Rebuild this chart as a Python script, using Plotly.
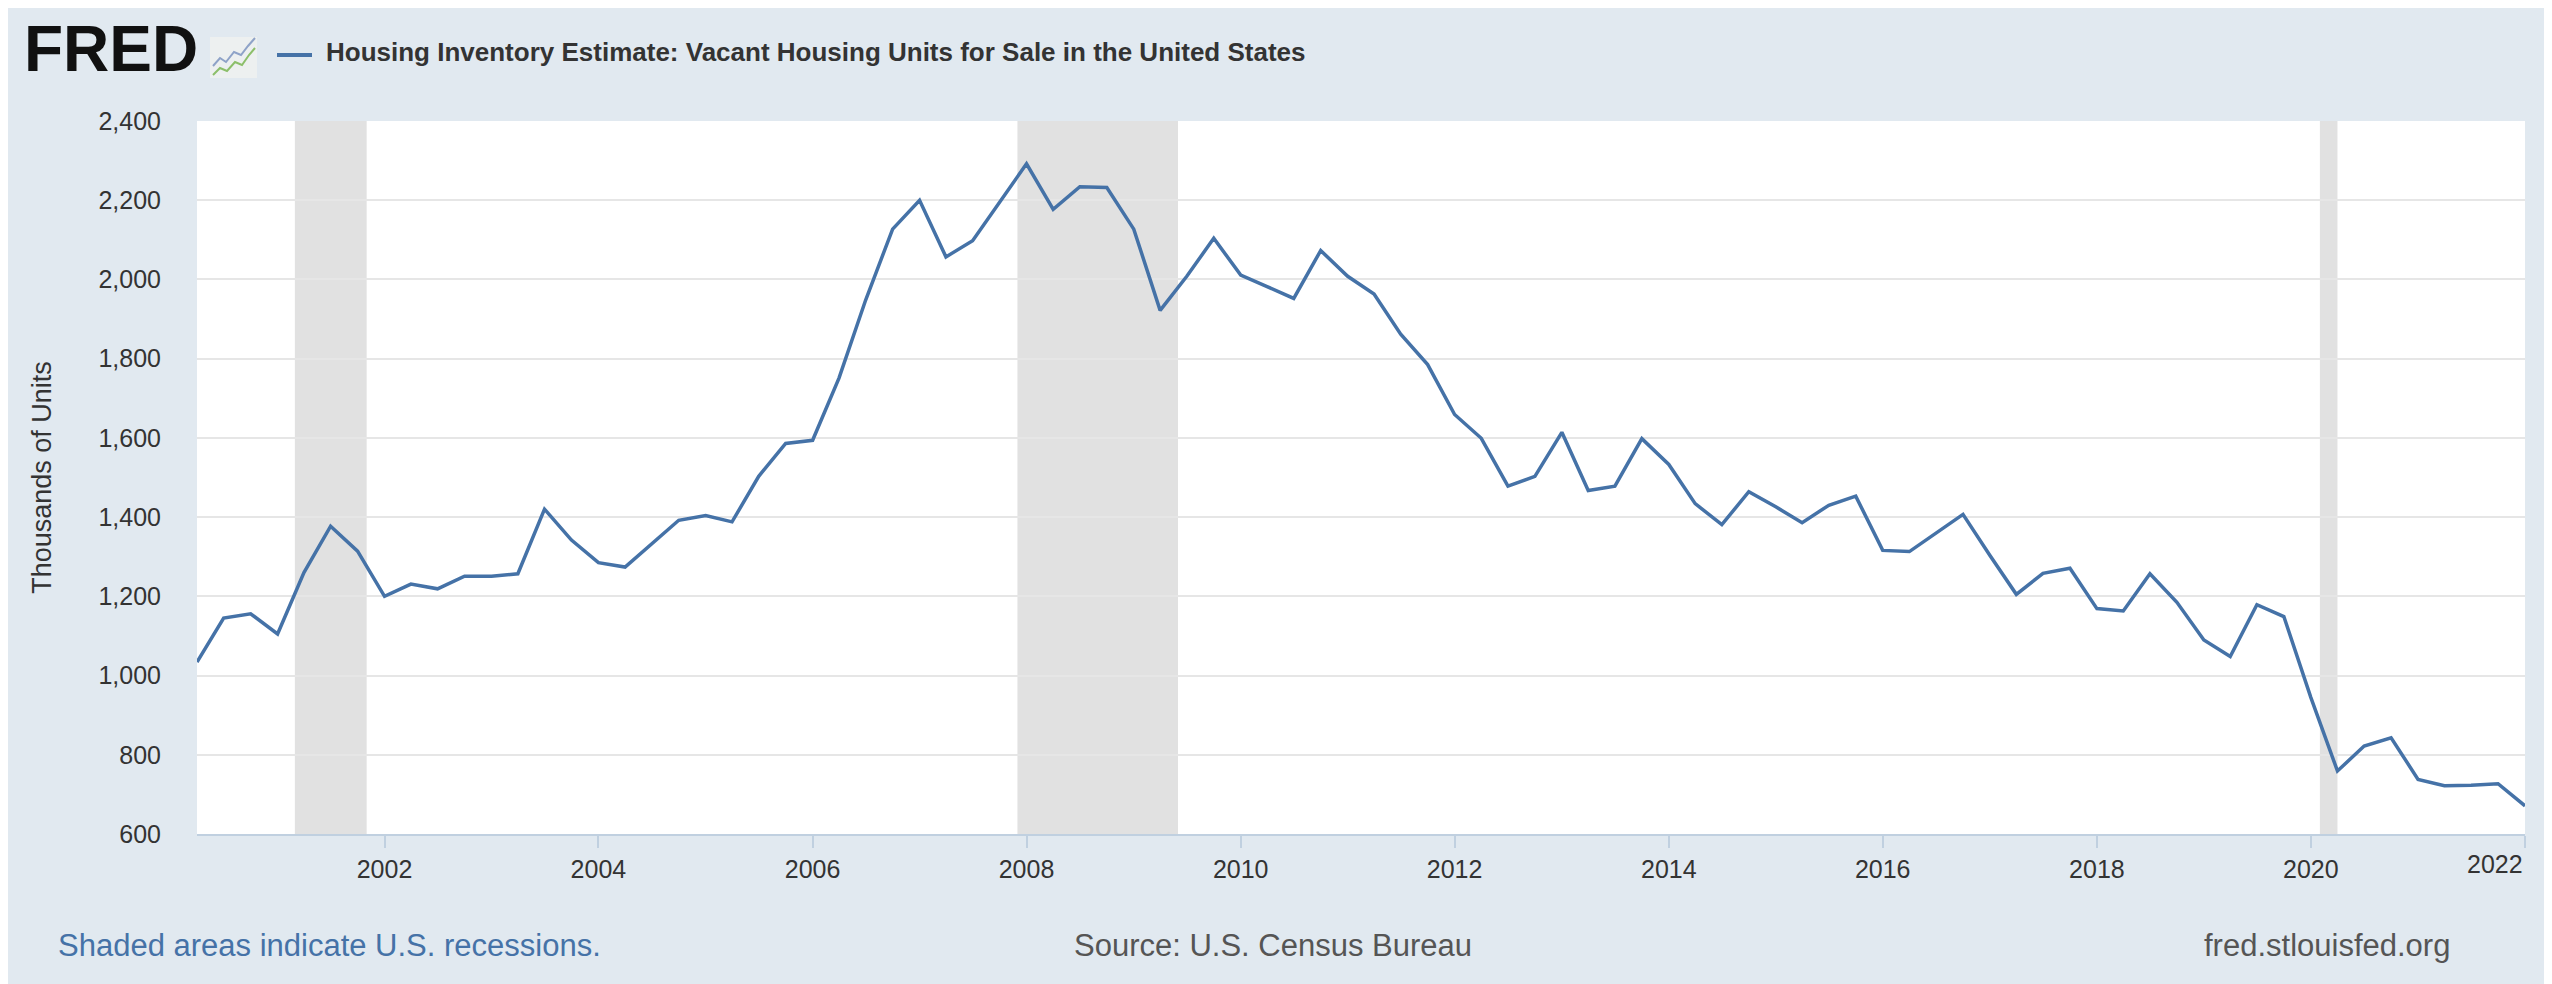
import pandas as pd
import plotly.graph_objects as go

# ---- data ----
start_quarter = "2000-04-01"
vacant_for_sale = [
    1034, 1145, 1156,
    1105, 1260, 1377, 1314,
    1200, 1231, 1219, 1251,
    1251, 1257, 1420, 1342,
    1285, 1274, 1333, 1392,
    1404, 1388, 1503, 1586,
    1594, 1751, 1948, 2127,
    2200, 2057, 2098, 2194,
    2292, 2177, 2234, 2232,
    2127, 1922, 2008, 2104,
    2011, 1982, 1952, 2073,
    2008, 1963, 1862, 1785,
    1659, 1599, 1478, 1503,
    1614, 1467, 1478, 1598,
    1533, 1434, 1381, 1464,
    1426, 1386, 1430, 1453,
    1316, 1313, 1360, 1407,
    1303, 1205, 1258, 1271,
    1169, 1163, 1257, 1185,
    1090, 1048, 1179, 1149,
    945, 759, 822, 843,
    738, 722, 723, 727,
    671,
]
dates = pd.date_range(start_quarter, periods=len(vacant_for_sale), freq="QS")

recession_starts = ["2001-03-01", "2007-12-01", "2020-02-01"]
recession_ends = ["2001-11-01", "2009-06-01", "2020-04-01"]

year_ticks = ["2002", "2004", "2006", "2008", "2010", "2012", "2014", "2016", "2018", "2020", "2022"]
y_ticks = [600, 800, 1000, 1200, 1400, 1600, 1800, 2000, 2200, 2400]

series_name = "Housing Inventory Estimate: Vacant Housing Units for Sale in the United States"
y_title = "Thousands of Units"
footer_left = "Shaded areas indicate U.S. recessions."
footer_mid = "Source: U.S. Census Bureau"
footer_right = "fred.stlouisfed.org"

# ---- layout geometry (pixels) ----
W, H = 2552, 984
L, R, T, B = 189, 2517, 113, 826
LINE = "#4572a7"
BG = "#e1e9f0"
FONT = "Liberation Sans, Arial, sans-serif"
TICK_FONT = dict(family=FONT, size=25, color="#333333")


def px(x):
    return (x - L) / (R - L)


def py(y):
    return (B - y) / (B - T)


fig = go.Figure()
fig.add_trace(go.Scatter(
    x=dates, y=vacant_for_sale, mode="lines", name=series_name,
    line=dict(color=LINE, width=3.5), showlegend=False,
))

shapes = []
for s, e in zip(recession_starts, recession_ends):
    shapes.append(dict(type="rect", xref="x", yref="paper", x0=s, x1=e, y0=0, y1=1,
                       fillcolor="#e1e1e1", line=dict(width=0), layer="below"))

# legend dash
shapes.append(dict(type="line", xref="paper", yref="paper", x0=px(269), x1=px(304),
                   y0=py(47), y1=py(47), line=dict(color=LINE, width=4)))

# small FRED chart icon
shapes.append(dict(type="rect", xref="paper", yref="paper", x0=px(202), x1=px(249),
                   y0=py(70), y1=py(29), fillcolor="#edf0f0", line=dict(width=0)))


def pathxy(pts):
    return "M " + " L ".join(f"{px(a)},{py(b)}" for a, b in pts)


shapes.append(dict(type="path", xref="paper", yref="paper",
                   path=pathxy([(205, 58), (212, 50), (218, 54), (226, 44), (233, 47), (240, 38), (247, 30)]),
                   line=dict(color="#8fa3c8", width=2)))
shapes.append(dict(type="path", xref="paper", yref="paper",
                   path=pathxy([(205, 67), (212, 60), (219, 63), (227, 54), (234, 57), (241, 47), (247, 40)]),
                   line=dict(color="#8cbf6a", width=2)))

# tick labels shown as text: last one kept inside the plot edge, as in the original
tick_text = year_ticks[:-1] + [""]

annotations = [
    dict(text="<b>FRED</b>", xref="paper", yref="paper", x=px(14), y=py(41), xanchor="left", yanchor="middle",
         showarrow=False, font=dict(family=FONT, size=64, color="#111111")),
    dict(text="<b>" + series_name + "</b>", xref="paper", yref="paper", x=px(316), y=py(44),
         xanchor="left", yanchor="middle", showarrow=False, font=dict(family=FONT, size=26, color="#333333")),
    dict(text=year_ticks[-1], xref="paper", yref="paper", x=1, y=py(856), xanchor="right", yanchor="middle",
         showarrow=False, font=TICK_FONT),
    dict(text=footer_left, xref="paper", yref="paper", x=px(48), y=py(937), xanchor="left", yanchor="middle",
         showarrow=False, font=dict(family=FONT, size=31, color="#4572a7")),
    dict(text=footer_mid, xref="paper", yref="paper", x=px(1265), y=py(937), xanchor="center", yanchor="middle",
         showarrow=False, font=dict(family=FONT, size=31, color="#555555")),
    dict(text=footer_right, xref="paper", yref="paper", x=px(2444), y=py(937), xanchor="right", yanchor="middle",
         showarrow=False, font=dict(family=FONT, size=31, color="#555555")),
]

fig.update_layout(
    width=W, height=H,
    margin=dict(l=L, r=W - R, t=T, b=H - B, pad=0),
    paper_bgcolor=BG, plot_bgcolor="#ffffff",
    font=dict(family=FONT, color="#333333"),
    shapes=shapes, annotations=annotations,
    showlegend=False,
)
fig.update_xaxes(
    type="date", range=[dates[0], dates[-1]],
    tickvals=[f"{y}-01-01" for y in year_ticks], ticktext=tick_text,
    ticks="outside", ticklen=12, tickcolor="#c0d0e0", tickwidth=1.5,
    showgrid=False, showline=True, linecolor="#c0d0e0", linewidth=1.5,
    tickfont=TICK_FONT, zeroline=False,
)
fig.update_yaxes(
    range=[600, 2400], tickvals=y_ticks, tickformat=",",
    showgrid=True, gridcolor="#e6e6e6", gridwidth=1.5, zeroline=False,
    ticks="outside", ticklen=30, tickcolor="rgba(0,0,0,0)",
    tickfont=TICK_FONT,
    title=dict(text=y_title, font=dict(family=FONT, size=27, color="#333333"), standoff=38),
)

fig.write_html("out.html")
